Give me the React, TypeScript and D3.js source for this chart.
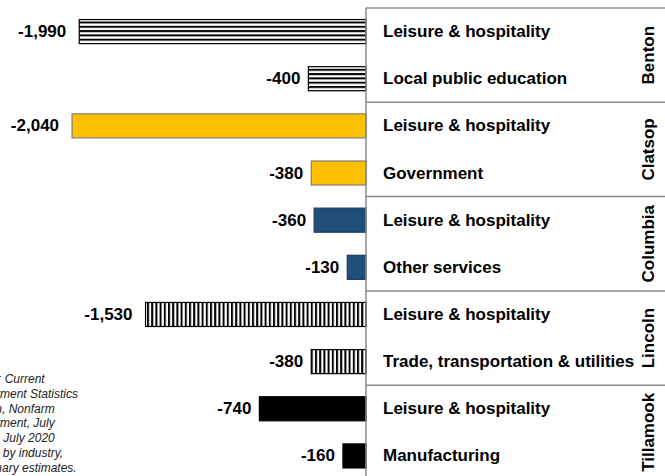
import React from "react";
import * as d3 from "d3";

const counties = ["Benton", "Clatsop", "Columbia", "Lincoln", "Tillamook"];
const industries = [
  "Leisure & hospitality",
  "Local public education",
  "Leisure & hospitality",
  "Government",
  "Leisure & hospitality",
  "Other services",
  "Leisure & hospitality",
  "Trade, transportation & utilities",
  "Leisure & hospitality",
  "Manufacturing",
];
const rowCounty = ["Benton", "Benton", "Clatsop", "Clatsop", "Columbia", "Columbia", "Lincoln", "Lincoln", "Tillamook", "Tillamook"];
const values = [-1990, -400, -2040, -380, -360, -130, -1530, -380, -740, -160];
const sourceLines = [
  "Source: Current",
  "Employment Statistics",
  "Division, Nonfarm",
  "Employment, July",
  "2019 to July 2020",
  "change by industry,",
  "preliminary estimates.",
];

const W = 665;
const H = 476;
const zeroX = 366;
const top = 8;
const bottom = 479.5;

const fills: Record<string, string> = {
  Benton: "url(#hstripes)",
  Clatsop: "#FFC000",
  Columbia: "#1F4E79",
  Lincoln: "url(#vstripes)",
  Tillamook: "#000000",
};
const strokes: Record<string, string> = {
  Benton: "#000",
  Clatsop: "#7f7f7f",
  Columbia: "#1a3d60",
  Lincoln: "#000",
  Tillamook: "#000",
};

export default function App() {
  const x = d3.scaleLinear().domain([-2540, 0]).range([0, zeroX]);
  const y = d3
    .scaleBand<number>()
    .domain(d3.range(values.length))
    .range([top, bottom])
    .paddingInner(0.49)
    .paddingOuter(0.245);
  const yc = d3.scaleBand<string>().domain(counties).range([top, bottom]);
  const fmt = (v: number) => d3.format(",")(v).replace("\u2212", "-");
  const font = "Arial, 'Liberation Sans', Helvetica, sans-serif";

  return (
    <svg
      width={W}
      height={H}
      style={{ position: "absolute", left: 0, top: 0 }}
      fontFamily={font}
    >
      <defs>
        <pattern id="hstripes" patternUnits="userSpaceOnUse" width={8} height={4.3}>
          <rect width={8} height={4.3} fill="#fff" />
          <rect width={8} height={2} fill="#000" />
        </pattern>
        <pattern id="vstripes" patternUnits="userSpaceOnUse" width={4.2} height={8}>
          <rect width={4.2} height={8} fill="#fff" />
          <rect width={2} height={8} fill="#000" />
        </pattern>
      </defs>
      <rect width={W} height={H} fill="#fff" />

      {/* source note */}
      <g fontStyle="italic" fontSize={12} fill="#222">
        {sourceLines.map((t, i) => (
          <text key={i} x={-40} y={383 + i * 14.8}>
            {t}
          </text>
        ))}
      </g>

      {/* bars */}
      {values.map((v, i) => {
        const c = rowCounty[i];
        const y0 = y(i)!;
        const bw = y.bandwidth();
        return (
          <g key={i}>
            <rect
              x={x(v)}
              y={y0}
              width={x(0) - x(v)}
              height={bw}
              fill={fills[c]}
              stroke={strokes[c]}
              strokeWidth={1.2}
            />
            <text
              x={x(v) - (Math.abs(v) >= 1000 ? 13 : 8)}
              y={y0 + bw / 2}
              textAnchor="end"
              dominantBaseline="central"
              fontWeight="bold"
              fontSize={17}
              fill="#000"
            >
              {fmt(v)}
            </text>
          </g>
        );
      })}

      {/* panel */}
      <g stroke="#8a8a8a" strokeWidth={1.5}>
        <line x1={zeroX} x2={zeroX} y1={top} y2={H + 5} />
        {counties.map((c) => (
          <line key={c} x1={zeroX} x2={W + 5} y1={yc(c)!} y2={yc(c)!} />
        ))}
      </g>

      {industries.map((t, i) => (
        <text
          key={i}
          x={383}
          y={y(i)! + y.bandwidth() / 2}
          dominantBaseline="central"
          fontWeight="bold"
          fontSize={17}
          fill="#000"
        >
          {t}
        </text>
      ))}

      {counties.map((c) => {
        const cy = yc(c)! + yc.bandwidth() / 2;
        return (
          <text
            key={c}
            transform={`translate(648,${cy}) rotate(-90)`}
            textAnchor="middle"
            dominantBaseline="central"
            fontWeight="bold"
            fontSize={17}
            fill="#000"
          >
            {c}
          </text>
        );
      })}
    </svg>
  );
}
